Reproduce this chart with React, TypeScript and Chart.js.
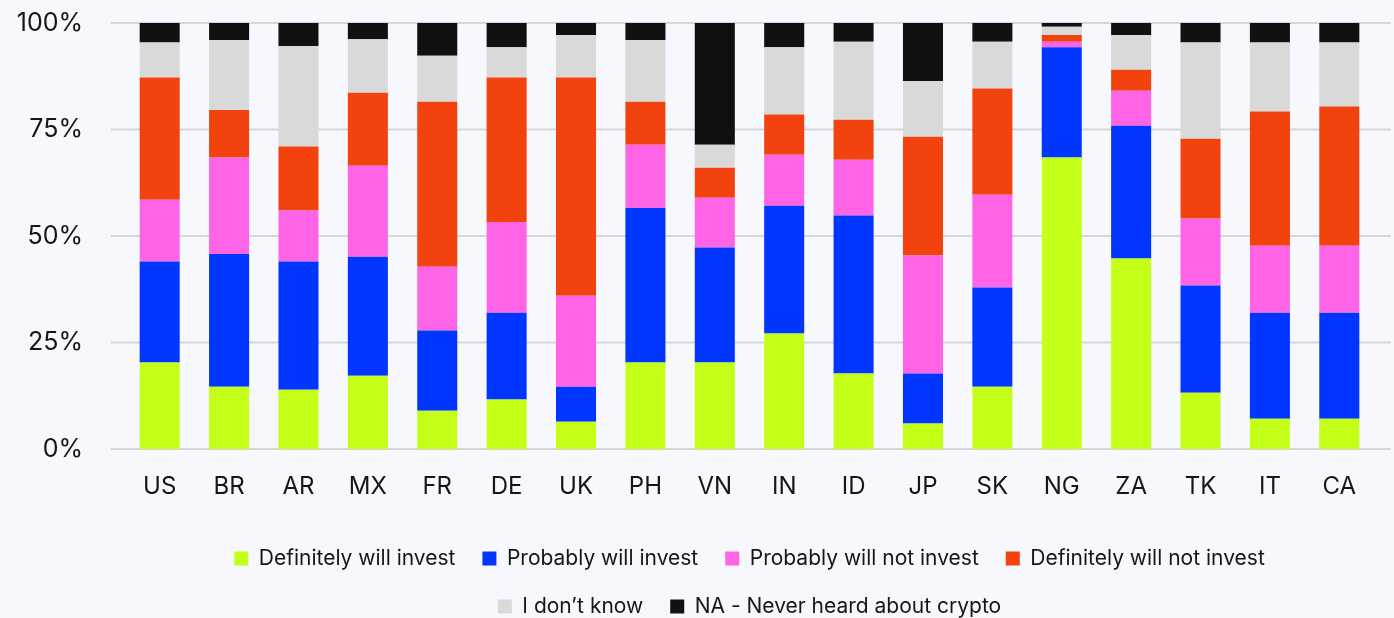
import React, { useEffect, useRef } from "react";
import { Chart, registerables } from "chart.js";

Chart.register(...registerables);

const categories = ["US", "BR", "AR", "MX", "FR", "DE", "UK", "PH", "VN", "IN", "ID", "JP", "SK", "NG", "ZA", "TK", "IT", "CA"];

const definitelyWill = [20.3, 14.6, 13.9, 17.2, 9.0, 11.6, 6.4, 20.3, 20.3, 27.1, 17.7, 6.0, 14.6, 68.4, 44.7, 13.2, 7.1, 7.1];
const probablyWill = [23.7, 31.2, 30.1, 27.9, 18.8, 20.4, 8.2, 36.3, 27.0, 30.0, 37.1, 11.7, 23.3, 25.9, 31.2, 25.2, 24.9, 24.9];
const probablyNot = [14.5, 22.6, 12.0, 21.4, 15.0, 21.3, 21.4, 14.8, 11.7, 12.0, 13.1, 27.7, 21.8, 1.3, 8.2, 15.7, 15.7, 15.7];
const definitelyNot = [28.7, 11.2, 15.0, 17.1, 38.7, 33.9, 51.2, 10.1, 7.0, 9.4, 9.4, 27.9, 24.9, 1.6, 4.9, 18.7, 31.5, 32.7];
const dontKnow = [8.2, 16.4, 23.6, 12.6, 10.8, 7.1, 10.0, 14.5, 5.4, 15.8, 18.3, 13.1, 11.0, 1.9, 8.2, 22.6, 16.2, 15.0];
const neverHeard = [4.6, 4.0, 5.4, 3.8, 7.7, 5.7, 2.8, 4.0, 28.6, 5.7, 4.4, 13.6, 4.4, 0.9, 2.8, 4.6, 4.6, 4.6];

const seriesLabels = [
  "Definitely will invest",
  "Probably will invest",
  "Probably will not invest",
  "Definitely will not invest",
  "I don\u2019t know",
  "NA - Never heard about crypto",
];
const seriesColors = ["#c3ff17", "#0036ff", "#ff63e6", "#f2420d", "#d9d9d9", "#111111"];
const yTickValues = [0, 25, 50, 75, 100];

const FONT = "Inter, 'Noto Sans', sans-serif";
const TEXT = "#161616";
const BG = "#f7f8fe";

const extendedGrid = {
  id: "extendedGrid",
  beforeDatasetsDraw(chart: any) {
    const { ctx, chartArea, scales } = chart;
    const y = scales.y;
    ctx.save();
    ctx.strokeStyle = "#d6d6d6";
    ctx.lineWidth = 2;
    for (const v of yTickValues) {
      const py = y.getPixelForValue(v);
      ctx.beginPath();
      ctx.moveTo(chartArea.left - 14, py);
      ctx.lineTo(chartArea.right + 17, py);
      ctx.stroke();
    }
    ctx.restore();
  },
};

export default function App() {
  const ref = useRef<HTMLCanvasElement | null>(null);

  useEffect(() => {
    if (!ref.current) return;
    const data = [definitelyWill, probablyWill, probablyNot, definitelyNot, dontKnow, neverHeard];
    const chart = new Chart(ref.current, {
      type: "bar",
      data: {
        labels: categories,
        datasets: data.map((d, i) => ({
          label: seriesLabels[i],
          data: d,
          backgroundColor: seriesColors[i],
          borderWidth: 0,
          categoryPercentage: 1,
          barPercentage: 0.577,
        })),
      },
      options: {
        animation: false,
        responsive: true,
        maintainAspectRatio: false,
        layout: { padding: { top: 23, right: 20, left: 0, bottom: 0 } },
        plugins: {
          tooltip: { enabled: false },
          legend: {
            position: "bottom",
            fullSize: false,
            labels: {
              boxWidth: 14,
              boxHeight: 14,
              padding: 27,
              color: TEXT,
              font: { family: FONT, size: 21 },
            },
          },
        },
        scales: {
          x: {
            stacked: true,
            grid: { display: false, drawTicks: false },
            border: { display: false },
            ticks: { color: TEXT, font: { family: FONT, size: 24 }, padding: 23, maxRotation: 0 },
            afterFit: (s: any) => {
              s.height = 72;
            },
          },
          y: {
            stacked: true,
            min: 0,
            max: 100,
            grid: { display: false, drawTicks: false },
            border: { display: false },
            ticks: {
              stepSize: 25,
              color: TEXT,
              font: { family: FONT, size: 25 },
              padding: 42,
              callback: (v: any) => v + "%",
            },
            afterFit: (s: any) => {
              s.width = 125;
              s.paddingTop = 0;
              s.paddingBottom = 0;
            },
          },
        },
      },
      plugins: [extendedGrid],
    });
    return () => chart.destroy();
  }, []);

  return (
    <div
      style={{
        position: "fixed",
        left: 0,
        top: 0,
        width: 1394,
        height: 627,
        background: BG,
      }}
    >
      <canvas ref={ref} />
    </div>
  );
}
